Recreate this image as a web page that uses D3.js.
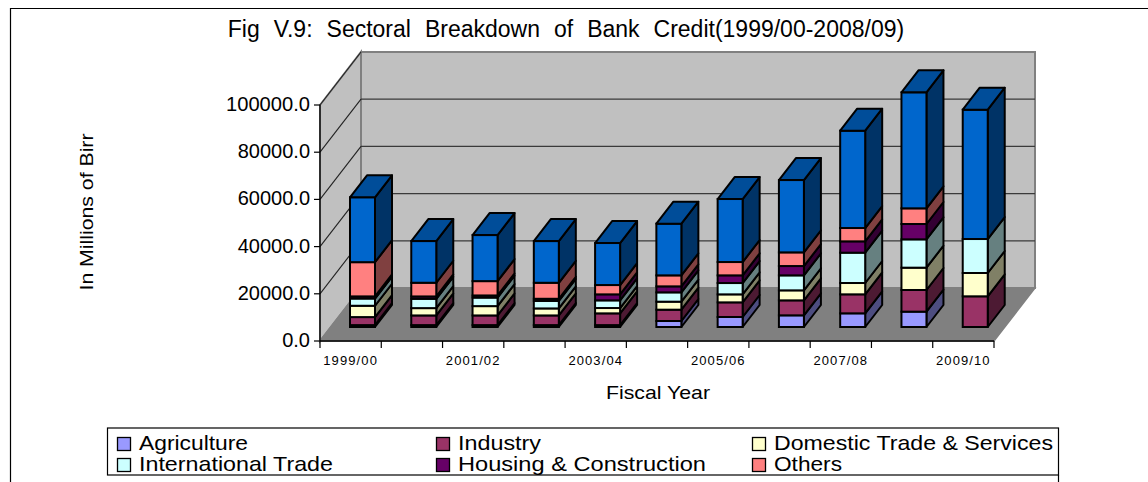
<!DOCTYPE html>
<html><head><meta charset="utf-8">
<style>html,body{margin:0;padding:0;background:#fff}svg{display:block}text{font-family:"Liberation Sans",Arial,sans-serif;fill:#000}</style>
<script src="https://cdn.jsdelivr.net/npm/d3@7/dist/d3.min.js"></script></head><body>
<script>
const categories=["1999/00","2000/01","2001/02","2002/03","2003/04","2004/05","2005/06","2006/07","2007/08","2008/09","2009/10"];
const yTicks=[0,20000,40000,60000,80000,100000];
const agriculture=[800,800,800,800,800,2540,4240,4940,5790,6500,0];
const industry=[3400,4100,4100,4100,4980,4800,6200,6350,8050,9180,13000];
const domesticTrade=[4800,3100,3950,2970,2260,3390,3390,4240,4800,9460,9880];
const internationalTrade=[3070,3950,3620,3190,3250,3950,4800,6350,12850,12000,14400];
const housing=[900,1000,900,900,2540,2540,3250,3950,4800,6500,0];
const others=[14500,5800,6070,6780,3950,4660,5650,5790,5650,6640,0];
const unlabelled=[27500,17650,19500,17650,17800,21900,26700,30640,41230,49140,54790];
const seriesNames=["Agriculture","Industry","Domestic Trade & Services","International Trade","Housing & Construction","Others"];
const legendWidths=[109,83,279,194,248,68];
const seriesData=[agriculture,industry,domesticTrade,internationalTrade,housing,others,unlabelled];
const frontColors=["#9999ff","#993366","#ffffcc","#ccffff","#660066","#ff8080","#0066cc"];
const sideColors=["#4d4d80","#4d1a33","#808066","#668080","#330033","#804040","#003366"];
const topColor="#004d99";

const W=1148,H=482;
const svg=d3.select("body").append("svg").attr("width",W).attr("height",H);
svg.append("path").attr("d","M10.5,482V8.5H1148").attr("fill","none").attr("stroke","#000").attr("stroke-width",1.2);

const x0=320,x1=994,yB=341,yT=105,wallDx=41,wallDy=-53,barDy=-14,dDx=17,dDy=-22,barOff=30,bw=25,sw=2;
const x=d3.scaleBand().domain(categories).range([x0,x1]);
const y=d3.scaleLinear().domain([0,100000]).range([yB,yT]);
const pts=p=>p.map(a=>a.join(",")).join(" ");
svg.append("polygon").attr("points",pts([[x0,y(100000)],[x0+wallDx,y(100000)+wallDy],[x0+wallDx,y(0)+wallDy],[x0,y(0)]])).attr("fill","#c0c0c0").attr("stroke","#808080").attr("stroke-width",2);
svg.append("polygon").attr("points",pts([[x0+wallDx,y(100000)+wallDy],[x1+wallDx,y(100000)+wallDy],[x1+wallDx,y(0)+wallDy],[x0+wallDx,y(0)+wallDy]])).attr("fill","#c0c0c0").attr("stroke","#808080").attr("stroke-width",2);
yTicks.slice(1).forEach(t=>{
  if(t<100000) svg.append("line").attr("x1",x0+wallDx).attr("x2",x1+wallDx).attr("y1",y(t)+wallDy).attr("y2",y(t)+wallDy).attr("stroke","#3a3a3a").attr("stroke-width",1.2);
  svg.append("line").attr("x1",x0).attr("x2",x0+wallDx).attr("y1",y(t)).attr("y2",y(t)+wallDy).attr("stroke","#222").attr("stroke-width",1.1);
});
svg.append("polygon").attr("points",pts([[x0,y(0)],[x0+wallDx,y(0)+wallDy],[x1+wallDx,y(0)+wallDy],[x1,y(0)]])).attr("fill","#808080").attr("stroke","#808080").attr("stroke-width",1.5);
const axL=svg.append("g").attr("transform",`translate(${x0},0)`);
axL.append("line").attr("y1",y(100000)).attr("y2",y(0)).attr("stroke","#000").attr("stroke-width",1.3);
yTicks.forEach(t=>{
  axL.append("line").attr("x1",-6).attr("x2",0).attr("y1",y(t)).attr("y2",y(t)).attr("stroke","#000").attr("stroke-width",1.2);
  axL.append("text").attr("x",-10).attr("y",y(t)+6).attr("text-anchor","end").attr("textLength",t===100000?84:null).attr("lengthAdjust","spacingAndGlyphs").style("font-size","20px").text(d3.format(".1f")(t));
});
const axB=svg.append("g");
axB.append("line").attr("x1",x0).attr("x2",x1).attr("y1",y(0)).attr("y2",y(0)).attr("stroke","#000").attr("stroke-width",1.3);
categories.concat([null]).forEach((c,i)=>{
  const tx=c?x(c):x1;
  axB.append("line").attr("x1",tx).attr("x2",tx).attr("y1",y(0)).attr("y2",y(0)+7).attr("stroke","#000").attr("stroke-width",1.2);
  if(c&&i%2===0) axB.append("text").attr("x",tx+x.bandwidth()/2).attr("y",365).attr("text-anchor","middle").style("font-size","13px").style("letter-spacing","1.1px").text(c);
});
categories.forEach((c,i)=>{
  const g=svg.append("g"); let acc=0; const bx=x(c)+barOff;
  seriesData.forEach((s,k)=>{
    const v=s[i]; if(!v) return;
    const yb=y(acc)+barDy, yt=y(acc+v)+barDy; acc+=v;
    g.append("polygon").attr("points",pts([[bx+bw,yb],[bx+bw+dDx,yb+dDy],[bx+bw+dDx,yt+dDy],[bx+bw,yt]])).attr("fill",sideColors[k]).attr("stroke","#000").attr("stroke-width",sw).attr("stroke-linejoin","round");
    g.append("rect").attr("x",bx).attr("y",yt).attr("width",bw).attr("height",yb-yt).attr("fill",frontColors[k]).attr("stroke","#000").attr("stroke-width",sw);
    if(k===seriesData.length-1) g.append("polygon").attr("points",pts([[bx,yt],[bx+dDx,yt+dDy],[bx+bw+dDx,yt+dDy],[bx+bw,yt]])).attr("fill",topColor).attr("stroke","#000").attr("stroke-width",sw).attr("stroke-linejoin","round");
  });
});
svg.append("text").attr("x",566).attr("y",37).attr("text-anchor","middle").style("font-size","23px").style("word-spacing","7.6px").text("Fig V.9: Sectoral Breakdown of Bank Credit(1999/00-2008/09)");
svg.append("text").attr("transform","translate(93,212) rotate(-90)").attr("text-anchor","middle").attr("textLength",157).attr("lengthAdjust","spacingAndGlyphs").style("font-size","18px").text("In Millions of Birr");
svg.append("text").attr("x",658).attr("y",399).attr("text-anchor","middle").attr("textLength",104).attr("lengthAdjust","spacingAndGlyphs").style("font-size","18.5px").text("Fiscal Year");
svg.append("rect").attr("x",107.5).attr("y",428).attr("width",951).attr("height",47).attr("fill","#fff").attr("stroke","#000").attr("stroke-width",1.2);
svg.append("line").attr("x1",1058.5).attr("x2",1058.5).attr("y1",475).attr("y2",482).attr("stroke","#000").attr("stroke-width",1.2);
const lx=[117,436,752], ly=[443,464];
seriesNames.forEach((n,i)=>{
  const c=i%3,r=Math.floor(i/3);
  svg.append("rect").attr("x",lx[c]+.5).attr("y",ly[r]-6+.5).attr("width",13).attr("height",13).attr("fill",frontColors[i]).attr("stroke","#000").attr("stroke-width",1.3);
  svg.append("text").attr("x",lx[c]+22).attr("y",ly[r]+7).attr("textLength",legendWidths[i]).attr("lengthAdjust","spacingAndGlyphs").style("font-size","21px").text(n);
});
</script></body></html>
